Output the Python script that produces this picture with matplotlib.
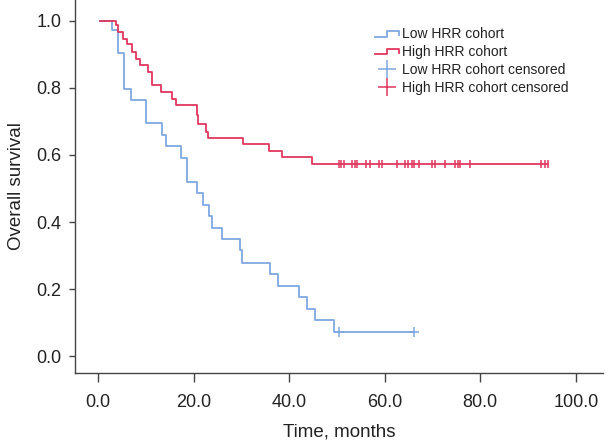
import matplotlib
matplotlib.use('Agg')
import matplotlib.pyplot as plt
from matplotlib.lines import Line2D
from matplotlib.legend_handler import HandlerBase

# Low HRR cohort (Kaplan-Meier steps)
low_time = [0.5, 3.0, 4.3, 5.5, 6.9, 10.0, 13.5, 14.3, 17.3, 18.7, 20.8, 21.9,
            23.3, 23.8, 25.9, 29.7, 30.1, 36.0, 37.7, 42.1, 43.7, 45.5, 49.5, 66.1]
low_surv = [1.0, 0.972, 0.903, 0.798, 0.765, 0.694, 0.661, 0.626, 0.592, 0.520, 0.487, 0.452,
            0.418, 0.383, 0.348, 0.316, 0.278, 0.245, 0.209, 0.177, 0.142, 0.107, 0.072, 0.072]
low_cens_time = [50.4, 66.1]
low_cens_surv = [0.072, 0.072]

# High HRR cohort
high_time = [0.5, 3.7, 4.3, 5.3, 6.0, 7.2, 8.0, 8.9, 10.5, 11.4, 13.3, 15.4, 16.3,
             20.8, 21.0, 22.6, 23.1, 30.3, 35.7, 38.6, 44.9, 94.1]
high_surv = [1.0, 0.987, 0.967, 0.947, 0.930, 0.907, 0.887, 0.868, 0.848, 0.810, 0.788, 0.768, 0.749,
             0.720, 0.692, 0.669, 0.652, 0.632, 0.612, 0.595, 0.573, 0.573]
high_cens_time = [50.5, 50.9, 51.4, 53.2, 53.7, 54.3, 56.2, 57.0, 58.9, 59.5, 62.5, 64.2, 64.8,
                  65.8, 66.2, 67.1, 70.0, 70.6, 72.7, 74.8, 75.3, 75.7, 77.8, 92.7, 93.5, 94.1]
high_cens_surv = [0.573] * len(high_cens_time)

x_ticks = [0, 20, 40, 60, 80, 100]
y_ticks = [0.0, 0.2, 0.4, 0.6, 0.8, 1.0]

blue = '#7EA8E2'
red = '#E0375E'
text_col = '#222222'


class StepHandler(HandlerBase):
    """Legend icon shaped like a small step"""
    def create_artists(self, legend, orig_handle, xdescent, ydescent, width, height, fontsize, trans):
        x0 = -xdescent
        y0 = -ydescent
        xs = [x0, x0 + width * 0.5, x0 + width * 0.5, x0 + width, x0 + width]
        ys = [y0 + height * 0.15, y0 + height * 0.15, y0 + height * 0.75, y0 + height * 0.75, y0 + height * 0.3]
        line = Line2D(xs, ys, color=orig_handle.get_color(), lw=orig_handle.get_linewidth(), transform=trans)
        return [line]


plt.rcParams['font.family'] = ['Liberation Sans', 'DejaVu Sans']

fig = plt.figure(figsize=(6.11, 4.42), dpi=100)
ax = fig.add_axes([75 / 611, 69 / 442, 528 / 611, 373 / 442])

l1, = ax.step(low_time, low_surv, where='post', color=blue, lw=1.3)
l2, = ax.step(high_time, high_surv, where='post', color=red, lw=1.3)
c1, = ax.plot(low_cens_time, low_cens_surv, ls='none', marker='+', ms=7, mew=1.1, color=blue)
c2, = ax.plot(high_cens_time, high_cens_surv, ls='none', marker='|', ms=6, mew=1.1, color=red)

ax.set_xlim(-4.8, 105.7)
ax.set_ylim(-0.05, 1.062)
ax.set_xticks(x_ticks)
ax.set_xticklabels([f'{v:.1f}' for v in x_ticks])
ax.set_yticks(y_ticks)
ax.set_yticklabels([f'{v:.1f}' for v in y_ticks])

for s in ['top', 'right']:
    ax.spines[s].set_visible(False)
for s in ['left', 'bottom']:
    ax.spines[s].set_color('#444444')
    ax.spines[s].set_linewidth(1.0)
ax.tick_params(direction='out', width=1.0, color='#444444',
               labelsize=13, labelcolor=text_col)
ax.tick_params(axis='x', length=6.3, pad=8.5)
ax.tick_params(axis='y', length=4.3, pad=5.5)

ax.set_xlabel('Time, months', fontsize=13.5, color=text_col, labelpad=9)
ax.set_ylabel('Overall survival', fontsize=13.5, color=text_col, labelpad=8)

leg_c1 = Line2D([], [], ls='none', marker='+', ms=13, mew=1.1, color=blue)
leg_c2 = Line2D([], [], ls='none', marker='+', ms=13, mew=1.1, color=red)
ax.legend([l1, l2, leg_c1, leg_c2],
          ['Low HRR cohort', 'High HRR cohort', 'Low HRR cohort censored', 'High HRR cohort censored'],
          handler_map={l1: StepHandler(), l2: StepHandler()},
          loc='upper left', bbox_to_anchor=(375 / 611, 1 - 27 / 442), bbox_transform=fig.transFigure,
          frameon=False, fontsize=10, handlelength=1.7, handletextpad=0.25,
          labelspacing=0.28, borderpad=0, borderaxespad=0, labelcolor=text_col)

fig.savefig('out.png', dpi=100)
